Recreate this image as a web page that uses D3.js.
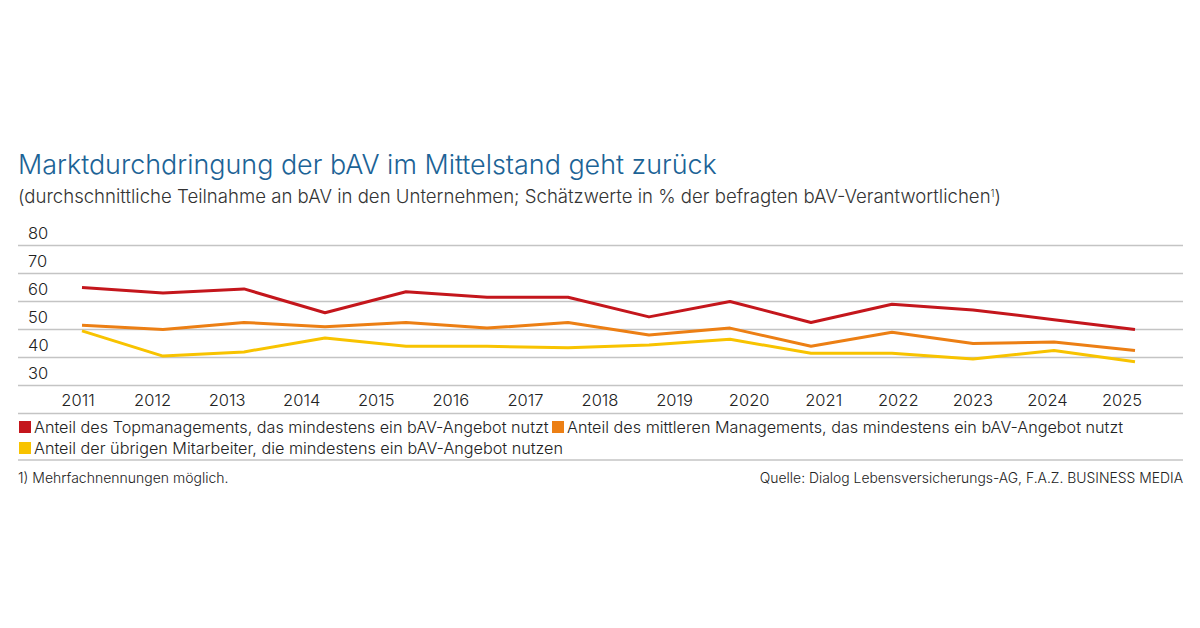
<!DOCTYPE html>
<html>
<head>
<meta charset="utf-8">
<script src="https://cdn.jsdelivr.net/npm/d3@7"></script>
<style>
  html, body { margin: 0; padding: 0; background: #fff; }
  svg { display: block; font-family: Inter, "Noto Sans", sans-serif; }
</style>
</head>
<body>
<div id="chart"></div>
<script>
// tick labels on the x axis (15 labels), the survey has 14 data points spread over the same span
const years = ["2011", "2012", "2013", "2014", "2015", "2016", "2017", "2018", "2019", "2020", "2021", "2022", "2023", "2024", "2025"];
const yTicks = [30, 40, 50, 60, 70, 80];

const topManagement = [65, 63, 64.5, 56, 63.5, 61.5, 61.5, 54.5, 60, 52.5, 59, 57, 53.5, 50];
const middleManagement = [51.5, 50, 52.5, 51, 52.5, 50.5, 52.5, 48, 50.5, 44, 49, 45, 45.5, 42.5];
const otherEmployees = [49.5, 40.5, 42, 47, 44, 44, 43.5, 44.5, 46.5, 41.5, 41.5, 39.5, 42.5, 38.5];

const seriesNames = [
  "Anteil des Topmanagements, das mindestens ein bAV-Angebot nutzt",
  "Anteil des mittleren Managements, das mindestens ein bAV-Angebot nutzt",
  "Anteil der übrigen Mitarbeiter, die mindestens ein bAV-Angebot nutzen"
];
const seriesColors = ["#c4161c", "#ec7f14", "#f8c300"];

const W = 1200, H = 628;
const left = 18, right = 1183;

const svg = d3.select("#chart").append("svg")
  .attr("width", W).attr("height", H)
  .attr("viewBox", `0 0 ${W} ${H}`);

// header
svg.append("text")
  .attr("x", left).attr("y", 174)
  .attr("font-size", 26.9)
  .attr("font-weight", 300)
  .attr("fill", "#1c6396")
  .text("Marktdurchdringung der bAV im Mittelstand geht zurück");

const sub = svg.append("text")
  .attr("x", left).attr("y", 203)
  .attr("font-size", 18.6)
  .attr("font-weight", 300)
  .attr("fill", "#333");
sub.append("tspan").text("(durchschnittliche Teilnahme an bAV in den Unternehmen; Schätzwerte in % der befragten bAV-Verantwortlichen");
sub.append("tspan").attr("font-size", 10).attr("dy", -6).text("1");
sub.append("tspan").attr("dy", 6).text(")");

// scales
const y = d3.scaleLinear().domain([30, 80]).range([385.5, 245.5]);
const xLabel = d3.scalePoint().domain(years).range([78, 1122]);
const xData = d3.scaleLinear().domain([0, topManagement.length - 1]).range([82, 1135]);

// grid + y labels
const grid = svg.append("g");
grid.selectAll("line").data(yTicks).join("line")
  .attr("x1", left).attr("x2", right)
  .attr("y1", d => y(d)).attr("y2", d => y(d))
  .attr("stroke", "#c4c4c4").attr("stroke-width", 1.4);
grid.selectAll("text").data(yTicks).join("text")
  .attr("x", 28).attr("y", d => y(d) - 7)
  .attr("font-size", 16.5)
  .attr("font-weight", 300)
  .attr("fill", "#222")
  .text(d => d);

// x labels
svg.append("g").selectAll("text").data(years).join("text")
  .attr("x", d => xLabel(d)).attr("y", 406)
  .attr("text-anchor", "middle")
  .attr("font-size", 16.5)
  .attr("font-weight", 300)
  .attr("fill", "#222")
  .text(d => d);

// lines
const line = d3.line().x((d, i) => xData(i)).y(d => y(d));
[topManagement, middleManagement, otherEmployees].forEach((vals, k) => {
  svg.append("path")
    .datum(vals)
    .attr("d", line)
    .attr("fill", "none")
    .attr("stroke", seriesColors[k])
    .attr("stroke-width", 3)
    .attr("stroke-linejoin", "round");
});

// separators
[413.5, 460].forEach(yy => {
  svg.append("line")
    .attr("x1", left).attr("x2", right)
    .attr("y1", yy).attr("y2", yy)
    .attr("stroke", "#c4c4c4").attr("stroke-width", 1.4);
});

// legend
const legendPos = [
  { x: 19, y: 421 },
  { x: 552, y: 421 },
  { x: 19, y: 442 }
];
const legend = svg.append("g").selectAll("g").data(seriesNames).join("g")
  .attr("transform", (d, i) => `translate(${legendPos[i].x},${legendPos[i].y})`);
legend.append("rect")
  .attr("width", 12).attr("height", 12)
  .attr("fill", (d, i) => seriesColors[i]);
legend.append("text")
  .attr("x", 15).attr("y", 11.5)
  .attr("font-size", 16.2)
  .attr("font-weight", 300)
  .attr("fill", "#222")
  .text(d => d);

// footer
svg.append("text")
  .attr("x", left).attr("y", 483)
  .attr("font-size", 14)
  .attr("font-weight", 300)
  .attr("fill", "#222")
  .text("1) Mehrfachnennungen möglich.");
svg.append("text")
  .attr("x", right).attr("y", 483)
  .attr("text-anchor", "end")
  .attr("font-size", 13.9)
  .attr("font-weight", 300)
  .attr("fill", "#222")
  .text("Quelle: Dialog Lebensversicherungs-AG, F.A.Z. BUSINESS MEDIA");
</script>
</body>
</html>
